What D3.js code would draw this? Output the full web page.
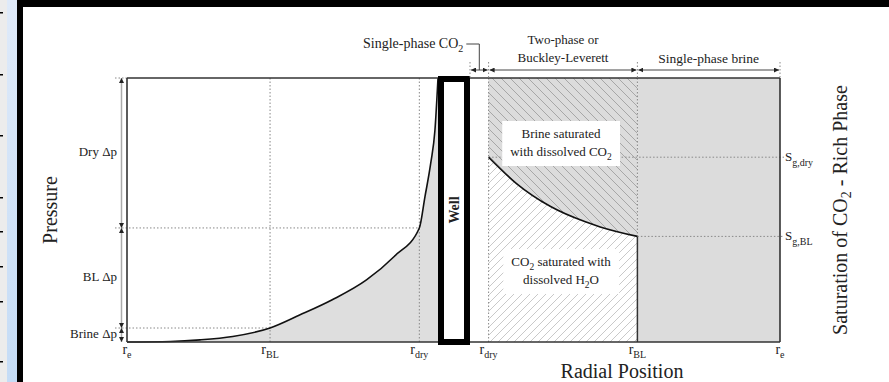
<!DOCTYPE html>
<html>
<head>
<meta charset="utf-8">
<script src="https://cdn.jsdelivr.net/npm/d3@7"></script>
<style>
  body { margin: 0; background: #fff; }
  svg { display: block; }
  text { font-family: "Liberation Serif", "Times New Roman", serif; fill: #222; }
</style>
</head>
<body>
<svg id="chart" width="889" height="382"></svg>
<script>
// radial position: 0 = well face, 100 = r_e (same scale mirrored on both sides of the well)
const radialTickR = [100, 54, 6];
const radialTickSub = ["e", "BL", "dry"];

// pressure profile (left panel), % of max pressure
const presR = [100, 86, 76.5, 66, 54, 44.5, 34, 23, 14, 6, 4.2, 2.3, 1, 0];
const presP = [0, 0.2, 0.8, 2.1, 5.3, 10.2, 16, 23.5, 32.5, 43.2, 55, 68, 80, 100];

// pressure drop levels and their labels
const presLevels = [100, 43.2, 5.3, 0];
const presLabels = ["Dry \u0394p", "BL \u0394p", "Brine \u0394p"];

// CO2 saturation profile (right panel) between r_dry and r_BL
const satR = [6, 15, 26, 37, 42, 54];
const satS = [0.70, 0.60, 0.513, 0.456, 0.436, 0.40];

const satLevels = [0.70, 0.40];
const satLevelR = [6, 54];
const satLabelSub = ["g,dry", "g,BL"];

// zones along the top of the right panel
const zoneEdges = [0, 6, 54, 100];

const svg = d3.select("#chart");

// ---- screenshot frame around the figure ----
const grad = svg.append("defs").append("linearGradient")
    .attr("id", "stripGrad").attr("x1", 0).attr("y1", 0).attr("x2", 0).attr("y2", 1);
grad.append("stop").attr("offset", "0%").attr("stop-color", "#dfeaf9");
grad.append("stop").attr("offset", "100%").attr("stop-color", "#c5dcf6");
svg.append("rect").attr("x", 0).attr("y", 0).attr("width", 7).attr("height", 382).attr("fill", "#ececec");
svg.append("rect").attr("x", 7).attr("y", 0).attr("width", 10).attr("height", 382).attr("fill", "url(#stripGrad)");
svg.selectAll(".tickmark").data([12, 74, 135, 197, 231, 266, 301, 361]).enter()
    .append("rect").attr("x", 0).attr("y", d => d).attr("width", 3).attr("height", 1.5).attr("fill", "#000");
svg.append("rect").attr("x", 17).attr("y", 0).attr("width", 872).attr("height", 7).attr("fill", "#000");
svg.append("rect").attr("x", 17).attr("y", 0).attr("width", 6).attr("height", 382).attr("fill", "#000");

// ---- scales ----
const plotTop = 78, plotBottom = 342;
const xL = d3.scaleLinear().domain([0, 100]).range([438, 127]);
const xR = d3.scaleLinear().domain([0, 100]).range([470, 780]);
const yP = d3.scaleLinear().domain([0, 100]).range([plotBottom, plotTop]);
const yS = d3.scaleLinear().domain([0, 1]).range([plotBottom, plotTop]);

const defs = svg.append("defs");

// hatch for brine part (gray with "\" lines)
const hb = defs.append("pattern").attr("id", "hatchBrine")
    .attr("patternUnits", "userSpaceOnUse").attr("width", 9).attr("height", 9);
hb.append("rect").attr("width", 9).attr("height", 9).attr("fill", "#dcdcdc");
hb.append("path").attr("d", "M-2,-2L11,11M-2,7L2,11M7,-2L11,2")
    .attr("stroke", "#999").attr("stroke-width", 0.8);

// hatch for CO2 part (white with "/" lines)
const hc = defs.append("pattern").attr("id", "hatchCO2")
    .attr("patternUnits", "userSpaceOnUse").attr("width", 8).attr("height", 8);
hc.append("rect").attr("width", 8).attr("height", 8).attr("fill", "#fff");
hc.append("path").attr("d", "M-2,10L10,-2M-2,2L2,-2M6,10L10,6")
    .attr("stroke", "#bbb").attr("stroke-width", 0.8);

const arrow = defs.append("marker").attr("id", "arr")
    .attr("viewBox", "0 0 6 6").attr("refX", 6).attr("refY", 3)
    .attr("markerWidth", 5).attr("markerHeight", 5)
    .attr("markerUnits", "userSpaceOnUse")
    .attr("orient", "auto-start-reverse");
arrow.append("path").attr("d", "M0,0L6,3L0,6z").attr("fill", "#222");

const presPts = presR.map((r, i) => ({ r: r, p: presP[i] }));
const satPts = satR.map((r, i) => ({ r: r, s: satS[i] }));

// ---- left panel: pressure ----
svg.append("path").datum(presPts)
    .attr("fill", "#dedede")
    .attr("d", d3.area().x(d => xL(d.r)).y0(yP(0)).y1(d => yP(d.p)).curve(d3.curveMonotoneX));

// ---- right panel: saturation ----
svg.append("rect")
    .attr("x", xR(zoneEdges[2])).attr("y", plotTop)
    .attr("width", xR(zoneEdges[3]) - xR(zoneEdges[2])).attr("height", plotBottom - plotTop)
    .attr("fill", "#dcdcdc");

svg.append("path").datum(satPts)
    .attr("fill", "url(#hatchBrine)")
    .attr("d", d3.area().x(d => xR(d.r)).y0(yS(1)).y1(d => yS(d.s)).curve(d3.curveMonotoneX));
svg.append("path").datum(satPts)
    .attr("fill", "url(#hatchCO2)")
    .attr("d", d3.area().x(d => xR(d.r)).y0(yS(0)).y1(d => yS(d.s)).curve(d3.curveMonotoneX));

// dotted guide lines
const dot = sel => sel.attr("stroke", "#888").attr("stroke-width", 1).attr("stroke-dasharray", "1.5,2").attr("fill", "none");

// left: vertical at r_BL and r_dry
radialTickR.slice(1).forEach(r => {
    svg.append("line").attr("x1", xL(r)).attr("x2", xL(r)).attr("y1", plotTop).attr("y2", plotBottom).call(dot);
});
// left: horizontal pressure levels out to where the curve reaches them
[[43.2, 6], [5.3, 54], [100, 100]].forEach(([p, r]) => {
    svg.append("line").attr("x1", 115).attr("x2", xL(r)).attr("y1", yP(p)).attr("y2", yP(p)).call(dot);
});
// right: vertical at r_dry (full) and r_BL (above curve)
svg.append("line").attr("x1", xR(zoneEdges[1])).attr("x2", xR(zoneEdges[1])).attr("y1", plotTop).attr("y2", plotBottom).call(dot);
svg.append("line").attr("x1", xR(zoneEdges[2])).attr("x2", xR(zoneEdges[2])).attr("y1", plotTop).attr("y2", yS(satLevels[1])).call(dot);
svg.append("line").attr("x1", xR(zoneEdges[2])).attr("x2", xR(zoneEdges[2])).attr("y1", yS(satLevels[1])).attr("y2", plotBottom)
    .attr("stroke", "#333").attr("stroke-width", 1.5);
satLevels.forEach((s, i) => {
    svg.append("line").attr("x1", xR(satLevelR[i])).attr("x2", xR(100) + 4).attr("y1", yS(s)).attr("y2", yS(s)).call(dot);
});

// curves
svg.append("path").datum(presPts)
    .attr("fill", "none").attr("stroke", "#111").attr("stroke-width", 1.6)
    .attr("d", d3.line().x(d => xL(d.r)).y(d => yP(d.p)).curve(d3.curveMonotoneX));
svg.append("path").datum(satPts)
    .attr("fill", "none").attr("stroke", "#111").attr("stroke-width", 1.6)
    .attr("d", d3.line().x(d => xR(d.r)).y(d => yS(d.s)).curve(d3.curveMonotoneX));

// frame lines
const solid = sel => sel.attr("stroke", "#333").attr("stroke-width", 1.6);
svg.append("line").attr("x1", xL(100)).attr("x2", xR(100)).attr("y1", plotTop).attr("y2", plotTop).call(solid);
svg.append("line").attr("x1", xL(100)).attr("x2", xR(100)).attr("y1", plotBottom).attr("y2", plotBottom).call(solid);
svg.append("line").attr("x1", xL(100)).attr("x2", xL(100)).attr("y1", plotTop).attr("y2", plotBottom).call(solid);
svg.append("line").attr("x1", xR(100)).attr("x2", xR(100)).attr("y1", plotTop).attr("y2", plotBottom).call(solid);

// pressure drop dimension line on the left
const dimX = 121.5;
for (let i = 0; i < presLevels.length - 1; i++) {
    svg.append("line")
        .attr("x1", dimX).attr("x2", dimX)
        .attr("y1", yP(presLevels[i])).attr("y2", yP(presLevels[i + 1]))
        .attr("stroke", "#aaa").attr("stroke-width", 1.5)
        .attr("marker-start", "url(#arr)").attr("marker-end", "url(#arr)");
    svg.append("text")
        .attr("x", 117).attr("y", (yP(presLevels[i]) + yP(presLevels[i + 1])) / 2 + 3)
        .attr("text-anchor", "end").attr("font-size", 13)
        .text(presLabels[i]);
}

// well
svg.append("rect")
    .attr("x", xL(0) + 3).attr("y", plotTop + 1)
    .attr("width", xR(0) - xL(0) - 6).attr("height", plotBottom - plotTop - 1)
    .attr("fill", "#fff").attr("stroke", "#000").attr("stroke-width", 6);
svg.append("text")
    .attr("transform", `translate(${(xL(0) + xR(0)) / 2 + 5},${(plotTop + plotBottom) / 2}) rotate(-90)`)
    .attr("text-anchor", "middle").attr("font-size", 14).attr("font-weight", "bold")
    .text("Well");

// helper for text with subscripts: parts = [[string, isSub], ...]
function rich(sel, parts, subSize) {
    parts.forEach((p, i) => {
        const prevSub = i > 0 && parts[i - 1][1];
        const t = sel.append("tspan").text(p[0]);
        if (p[1] && !prevSub) t.attr("dy", 4).attr("font-size", subSize);
        else if (!p[1] && prevSub) t.attr("dy", -4);
        else if (p[1]) t.attr("font-size", subSize);
    });
    return sel;
}

// radial tick labels
radialTickR.forEach((r, i) => {
    [xL(r), xR(r)].forEach(x => {
        const t = svg.append("text").attr("x", x).attr("y", 354)
            .attr("text-anchor", "middle").attr("font-size", 14);
        t.append("tspan").text("r");
        t.append("tspan").attr("dy", 4).attr("font-size", 10).text(radialTickSub[i]);
    });
});

// saturation labels
satLevels.forEach((s, i) => {
    const t = svg.append("text").attr("x", 785).attr("y", yS(s) + 4).attr("font-size", 13);
    t.append("tspan").text("S");
    t.append("tspan").attr("dy", 5).attr("font-size", 10).text(satLabelSub[i]);
});

// zone annotations across the top
const dimY = 70;
zoneEdges.forEach(r => {
    svg.append("line").attr("x1", xR(r)).attr("x2", xR(r)).attr("y1", 62).attr("y2", plotTop).call(dot);
});
for (let i = 0; i < zoneEdges.length - 1; i++) {
    svg.append("line")
        .attr("x1", xR(zoneEdges[i]) + 1).attr("x2", xR(zoneEdges[i + 1]) - 1)
        .attr("y1", dimY).attr("y2", dimY)
        .attr("stroke", "#444").attr("stroke-width", 1)
        .attr("marker-start", "url(#arr)").attr("marker-end", "url(#arr)");
}
const midCO2 = (xR(zoneEdges[0]) + xR(zoneEdges[1])) / 2;
svg.append("path")
    .attr("d", `M${midCO2 - 13},44H${midCO2}V${dimY}`)
    .attr("fill", "none").attr("stroke", "#444").attr("stroke-width", 1);
rich(svg.append("text").attr("x", midCO2 - 16).attr("y", 48).attr("text-anchor", "end").attr("font-size", 14),
    [["Single-phase CO", false], ["2", true]], 10);

const midTwo = (xR(zoneEdges[1]) + xR(zoneEdges[2])) / 2;
svg.append("text").attr("x", midTwo).attr("y", 44).attr("text-anchor", "middle").attr("font-size", 13).text("Two-phase or");
svg.append("text").attr("x", midTwo).attr("y", 62).attr("text-anchor", "middle").attr("font-size", 13).text("Buckley-Leverett");
const midBrine = (xR(zoneEdges[2]) + xR(zoneEdges[3])) / 2;
svg.append("text").attr("x", midBrine).attr("y", 63).attr("text-anchor", "middle").attr("font-size", 13.5).text("Single-phase brine");

// boxed region labels in the two-phase zone
function boxLabel(lines, y0) {
    const g = svg.append("g");
    const bg = g.append("rect").attr("fill", "#fff");
    lines.forEach((parts, i) => {
        rich(g.append("text").attr("x", midTwo - 2).attr("y", y0 + i * 18)
            .attr("text-anchor", "middle").attr("font-size", 13), parts, 9.5);
    });
    const b = g.node().getBBox();
    bg.attr("x", b.x - 8).attr("y", b.y - 5).attr("width", b.width + 16).attr("height", b.height + 9);
}
boxLabel([[["Brine saturated", false]], [["with dissolved CO", false], ["2", true]]], 138);
boxLabel([[["CO", false], ["2", true], [" saturated with", false]], [["dissolved H", false], ["2", true], ["O", false]]], 266);

// axis titles
svg.append("text")
    .attr("transform", `translate(57,${(plotTop + plotBottom) / 2}) rotate(-90)`)
    .attr("text-anchor", "middle").attr("font-size", 20)
    .text("Pressure");
svg.append("text")
    .attr("x", 622).attr("y", 378)
    .attr("text-anchor", "middle").attr("font-size", 20)
    .text("Radial Position");
rich(svg.append("text")
    .attr("transform", `translate(847,${(plotTop + plotBottom) / 2}) rotate(-90)`)
    .attr("text-anchor", "middle").attr("font-size", 20),
    [["Saturation of CO", false], ["2", true], [" - Rich Phase", false]], 14);
</script>
</body>
</html>
